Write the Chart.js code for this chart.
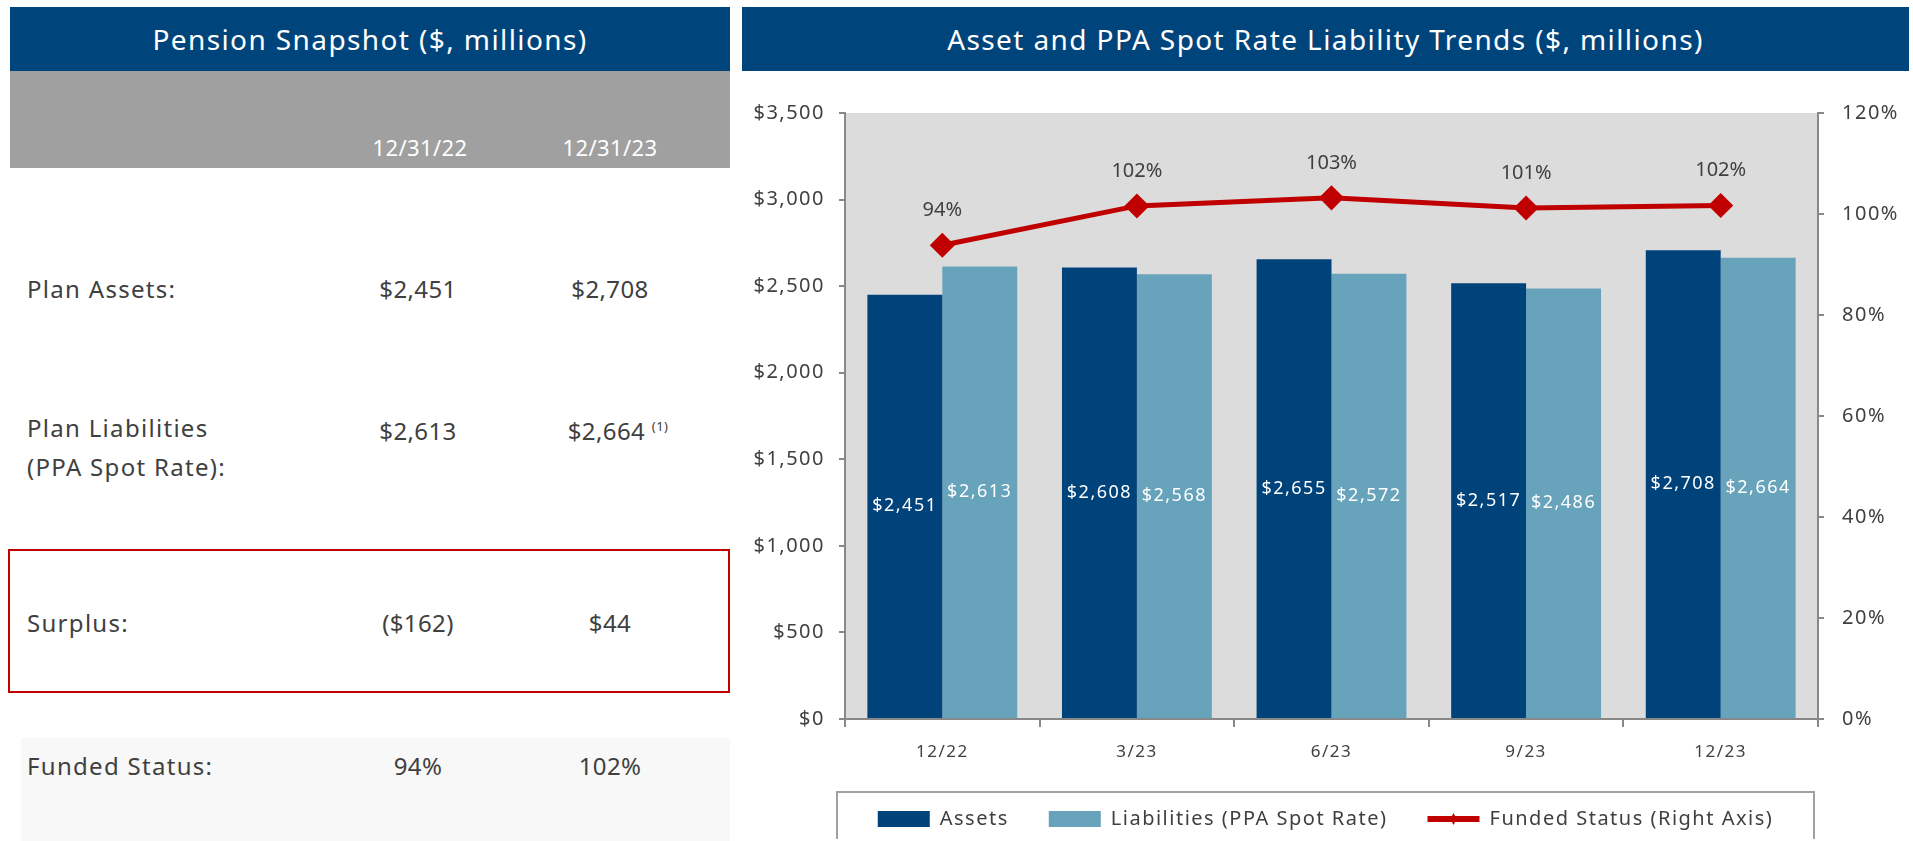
<!DOCTYPE html>
<html>
<head>
<meta charset="utf-8">
<script src="https://cdn.jsdelivr.net/npm/chart.js@4.4.1/dist/chart.umd.min.js"></script>
<style>
  body { margin: 0; background: #fff; font-family: "Noto Sans", sans-serif; color: #404040; overflow: hidden; }
  .abs { position: absolute; }
  .hdr { background: #00447C; color: #fff; font-size: 28px; letter-spacing: 1.4px; display: flex; align-items: center; justify-content: center; }
  .lbl { font-size: 24px; letter-spacing: 1.3px; }
  .val { font-size: 24px; width: 160px; text-align: center; letter-spacing: 0.4px; }
  sup { font-size: 13px; }
</style>
</head>
<body>
<!-- tabla izquierda -->
<div class="abs hdr" style="left:10px;top:7px;width:720px;height:64px;">Pension Snapshot ($, millions)</div>
<div class="abs" style="left:10px;top:71px;width:720px;height:97px;background:#A0A0A0;"></div>
<div class="abs val" id="h1" style="left:340px;top:132px;color:#fff;font-size:22px;"></div>
<div class="abs val" id="h2" style="left:530px;top:132px;color:#fff;font-size:22px;"></div>

<div class="abs lbl" style="left:27px;top:272px;">Plan Assets:</div>
<div class="abs val" style="left:338px;top:272px;">$2,451</div>
<div class="abs val" style="left:530px;top:272px;">$2,708</div>

<div class="abs lbl" style="left:27px;top:408px;line-height:39px;">Plan Liabilities<br>(PPA Spot Rate):</div>
<div class="abs val" style="left:338px;top:414px;">$2,613</div>
<div class="abs val" style="left:538px;top:414px;">$2,664 <sup>(1)</sup></div>

<div class="abs" style="left:8px;top:549px;width:718px;height:140px;border:2px solid #C00000;"></div>
<div class="abs lbl" style="left:27px;top:606px;">Surplus:</div>
<div class="abs val" style="left:338px;top:606px;">($162)</div>
<div class="abs val" style="left:530px;top:606px;">$44</div>

<div class="abs" style="left:21px;top:738px;width:709px;height:103px;background:#F8F8F8;"></div>
<div class="abs lbl" style="left:27px;top:749px;">Funded Status:</div>
<div class="abs val" style="left:338px;top:749px;">94%</div>
<div class="abs val" style="left:530px;top:749px;">102%</div>

<!-- grafico derecho -->
<div class="abs hdr" style="left:742px;top:7px;width:1167px;height:64px;">Asset and PPA Spot Rate Liability Trends ($, millions)</div>
<div class="abs" style="left:742px;top:80px;width:1167px;height:759px;">
  <canvas id="grafico"></canvas>
</div>

<script>
const fechas = ['12/31/22', '12/31/23'];
const trimestres = ['12/22', '3/23', '6/23', '9/23', '12/23'];
const activos = [2451, 2608, 2655, 2517, 2708];
const pasivos = [2613, 2568, 2572, 2486, 2664];
const estadoFondeo = [93.8, 101.6, 103.2, 101.2, 101.7];

document.getElementById('h1').textContent = fechas[0];
document.getElementById('h2').textContent = fechas[1];

// espaciado de letras en el canvas (la fuente original es mas ancha)
const espaciado = {
    id: 'espaciado',
    beforeLayout(chart) { chart.ctx.letterSpacing = '1.5px'; },
    beforeDraw(chart) { chart.ctx.letterSpacing = '1.5px'; }
};

// fondo gris del area del grafico
const fondoArea = {
    id: 'fondoArea',
    beforeDraw(chart) {
        const { ctx, chartArea: a } = chart;
        ctx.save();
        ctx.fillStyle = '#DCDCDC';
        ctx.fillRect(a.left, a.top, a.right - a.left, a.bottom - a.top);
        ctx.restore();
    }
};

// etiquetas de valores
const etiquetas = {
    id: 'etiquetas',
    afterDatasetsDraw(chart) {
        const ctx = chart.ctx;
        ctx.save();
        ctx.textAlign = 'center';
        ctx.textBaseline = 'middle';
        chart.data.datasets.forEach((ds, i) => {
            const meta = chart.getDatasetMeta(i);
            meta.data.forEach((el, j) => {
                if (ds.type === 'line') {
                    ctx.letterSpacing = '0px';
                    ctx.font = '20px "Noto Sans"';
                    ctx.fillStyle = '#404040';
                    ctx.fillText(Math.round(ds.data[j]) + '%', el.x, el.y - 35);
                } else {
                    ctx.letterSpacing = '1.5px';
                    ctx.font = '18px "Noto Sans"';
                    ctx.fillStyle = '#fff';
                    ctx.fillText('$' + ds.data[j].toLocaleString('en-US'), el.x, (el.y + el.base) / 2);
                }
            });
        });
        ctx.restore();
    }
};

// marco de la leyenda y marcador de linea
const marcoLeyenda = {
    id: 'marcoLeyenda',
    afterDraw(chart) {
        const { ctx, chartArea: a, legend } = chart;
        const cajas = legend.legendHitBoxes;
        const yc = cajas[0].top + cajas[0].height / 2;
        ctx.save();
        ctx.strokeStyle = '#A0A0A0';
        ctx.lineWidth = 2;
        ctx.strokeRect(a.left - 8, yc - 27, a.right - a.left + 4, 80);
        // marcador de la serie de linea
        const c = cajas[2];
        const bw = legend.options.labels.boxWidth;
        ctx.strokeStyle = '#C00000';
        ctx.lineWidth = 6;
        ctx.beginPath();
        ctx.moveTo(c.left, yc);
        ctx.lineTo(c.left + bw, yc);
        ctx.stroke();
        ctx.fillStyle = '#C00000';
        ctx.beginPath();
        ctx.moveTo(c.left + bw / 2, yc - 6);
        ctx.lineTo(c.left + bw / 2 + 3, yc);
        ctx.lineTo(c.left + bw / 2, yc + 6);
        ctx.lineTo(c.left + bw / 2 - 3, yc);
        ctx.closePath();
        ctx.fill();
        ctx.restore();
    }
};

const ctx = document.getElementById('grafico').getContext('2d');
new Chart(ctx, {
    data: {
        labels: trimestres,
        datasets: [
            {
                type: 'bar',
                label: 'Assets',
                data: activos,
                backgroundColor: '#00427A',
                yAxisID: 'y',
                barPercentage: 1,
                categoryPercentage: 0.77,
                order: 1
            },
            {
                type: 'bar',
                label: 'Liabilities (PPA Spot Rate)',
                data: pasivos,
                backgroundColor: '#68A3BC',
                yAxisID: 'y',
                barPercentage: 1,
                categoryPercentage: 0.77,
                order: 1
            },
            {
                type: 'line',
                label: 'Funded Status (Right Axis)',
                data: estadoFondeo,
                yAxisID: 'y1',
                borderColor: '#C00000',
                backgroundColor: '#C00000',
                borderWidth: 5,
                pointStyle: 'rectRot',
                pointRadius: 9,
                tension: 0,
                order: 0
            }
        ]
    },
    options: {
        responsive: true,
        maintainAspectRatio: false,
        animation: false,
        layout: { padding: { top: 33, left: 0, right: 0, bottom: 0 } },
        scales: {
            x: {
                offset: true,
                grid: { offset: true, drawOnChartArea: false, drawTicks: true, tickLength: 8, color: '#888', lineWidth: 2 },
                border: { color: '#888', width: 2 },
                ticks: { color: '#404040', font: { size: 17, family: 'Noto Sans' }, padding: 15 },
                afterFit(s) { s.height = 50; }
            },
            y: {
                position: 'left',
                min: 0, max: 3500,
                ticks: {
                    stepSize: 500, color: '#404040', font: { size: 20, family: 'Noto Sans' }, padding: 14,
                    callback: v => '$' + v.toLocaleString('en-US')
                },
                grid: { drawOnChartArea: false, tickLength: 6, color: '#888', lineWidth: 2 },
                border: { color: '#888', width: 2 },
                afterFit(s) { s.width = 103; }
            },
            y1: {
                position: 'right',
                min: 0, max: 120,
                ticks: {
                    stepSize: 20, color: '#404040', font: { size: 20, family: 'Noto Sans' }, padding: 18,
                    callback: v => v + '%'
                },
                grid: { drawOnChartArea: false, tickLength: 6, color: '#888', lineWidth: 2 },
                border: { color: '#888', width: 2 },
                afterFit(s) { s.width = 91; }
            }
        },
        plugins: {
            legend: {
                display: true,
                position: 'bottom',
                labels: {
                    color: '#404040',
                    font: { size: 20, family: 'Noto Sans' },
                    boxWidth: 52,
                    boxHeight: 16,
                    padding: 40,
                    generateLabels(chart) {
                        return chart.data.datasets.map((ds, i) => ({
                            text: ds.label,
                            fillStyle: ds.type === 'line' ? 'rgba(0,0,0,0)' : ds.backgroundColor,
                            strokeStyle: 'rgba(0,0,0,0)',
                            lineWidth: 0,
                            fontColor: '#404040',
                            datasetIndex: i,
                            hidden: false
                        }));
                    }
                }
            },
            tooltip: { enabled: false }
        }
    },
    plugins: [espaciado, fondoArea, etiquetas, marcoLeyenda]
});
</script>
</body>
</html>
